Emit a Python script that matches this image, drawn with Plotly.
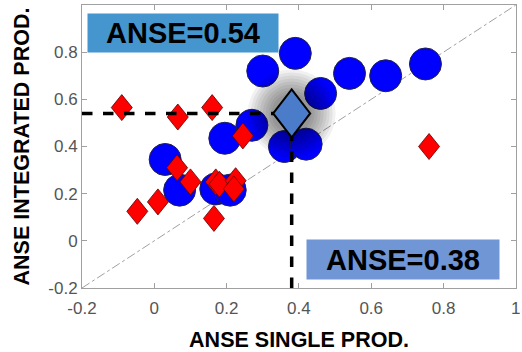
import plotly.graph_objects as go

# ANSE of the single product (x) vs the integrated product (y)
blue_x = [0.03, 0.07, 0.17, 0.21, 0.195, 0.27, 0.30, 0.39, 0.46, 0.54, 0.64, 0.75, 0.36, 0.42]
blue_y = [0.345, 0.215, 0.22, 0.215, 0.435, 0.49, 0.72, 0.795, 0.625, 0.71, 0.70, 0.75, 0.40, 0.41]

red_x = [-0.09, 0.065, 0.16, 0.245, -0.047, 0.01, 0.063, 0.10, 0.165, 0.17, 0.18, 0.225, 0.22, 0.76]
red_y = [0.565, 0.525, 0.565, 0.445, 0.125, 0.165, 0.31, 0.25, 0.095, 0.25, 0.24, 0.255, 0.22, 0.40]

mean_single = 0.38
mean_integrated = 0.54

tick_vals = [-0.2, 0, 0.2, 0.4, 0.6, 0.8, 1]
x_tick_text = ["-0.2", "0", "0.2", "0.4", "0.6", "0.8", "1"]
y_tick_vals = [-0.2, 0, 0.2, 0.4, 0.6, 0.8]
y_tick_text = ["-0.2", "0", "0.2", "0.4", "0.6", "0.8"]

FONT = "Liberation Sans, Arial"


def diamond_path(half_w, half_h):
    return f"M {-half_w} 0 L 0 {half_h} L {half_w} 0 L 0 {-half_h} Z"


fig = go.Figure()

# 1:1 reference line
fig.add_trace(go.Scatter(
    x=[-0.2, 1], y=[-0.2, 1], mode="lines",
    line=dict(color="#a0a0a0", width=1, dash="dashdot"),
    hoverinfo="skip", showlegend=False))

fig.add_trace(go.Scatter(
    x=blue_x, y=blue_y, mode="markers",
    marker=dict(symbol="circle", size=32, color="#0000ff",
                line=dict(color="#202050", width=1)),
    showlegend=False))

# slightly tall red diamonds, sized in pixels and anchored on each data point
for xv, yv in zip(red_x, red_y):
    fig.add_shape(type="path", xsizemode="pixel", ysizemode="pixel",
                  xanchor=xv, yanchor=yv, path=diamond_path(10.5, 13),
                  fillcolor="#ff0000", line=dict(color="#600000", width=0.8),
                  layer="above")

# guide lines to the mean point
fig.add_shape(type="line", x0=-0.2, x1=mean_single, y0=mean_integrated, y1=mean_integrated,
              line=dict(color="black", width=3.5, dash="dash"), layer="above")
fig.add_shape(type="line", x0=mean_single, x1=mean_single, y0=-0.2, y1=mean_integrated,
              line=dict(color="black", width=3.5, dash="dash"), layer="above")

# soft halo behind the mean point
for s in [88, 82, 76, 70, 64, 58, 52, 46, 40]:
    fig.add_shape(type="circle", xsizemode="pixel", ysizemode="pixel",
                  xanchor=mean_single, yanchor=mean_integrated,
                  x0=-s / 2, x1=s / 2, y0=-s / 2, y1=s / 2,
                  fillcolor="rgba(0,0,0,0.055)", line=dict(width=0), layer="above")

# mean point
fig.add_shape(type="path", xsizemode="pixel", ysizemode="pixel",
              xanchor=mean_single, yanchor=mean_integrated,
              path=diamond_path(18.5, 24),
              fillcolor="#4a7cc9", line=dict(color="black", width=2), layer="above")

fig.add_annotation(
    x=0.0105, y=0.972, xref="paper", yref="paper", xanchor="left", yanchor="top",
    text=f"<b>ANSE={mean_integrated:.2f}</b>", showarrow=False,
    font=dict(family=FONT, size=29, color="black"),
    bgcolor="#4596cf", borderpad=2, width=186, height=34, align="center")

fig.add_annotation(
    x=0.516, y=0.172, xref="paper", yref="paper", xanchor="left", yanchor="top",
    text=f"<b>ANSE={mean_single:.2f}</b>", showarrow=False,
    font=dict(family=FONT, size=29, color="black"),
    bgcolor="#7096d6", borderpad=2, width=188, height=35, align="center")

axis_common = dict(
    showgrid=False, zeroline=False, showline=True, linecolor="#a0a0a0", linewidth=1,
    mirror="ticks", ticks="inside", ticklen=5, tickcolor="#a0a0a0",
    tickfont=dict(family=FONT, size=17, color="#555555"),
    ticklabeloverflow="allow", automargin=False,
)

fig.update_layout(
    width=522, height=352,
    margin=dict(l=82, r=6, t=5, b=64),
    paper_bgcolor="white", plot_bgcolor="white",
    xaxis=dict(range=[-0.2, 1.0005], tickvals=tick_vals, ticktext=x_tick_text,
               ticklabelstandoff=5,
               title=dict(text="<b>ANSE SINGLE PROD.</b>", standoff=18,
                          font=dict(family=FONT, size=21.5, color="black")),
               **axis_common),
    yaxis=dict(range=[-0.2, 1], tickvals=y_tick_vals, ticktext=y_tick_text,
               title=dict(text="<b>ANSE INTEGRATED PROD.</b>", standoff=12,
                          font=dict(family=FONT, size=21.5, color="black")),
               **axis_common),
)

fig.write_html("out.html")
